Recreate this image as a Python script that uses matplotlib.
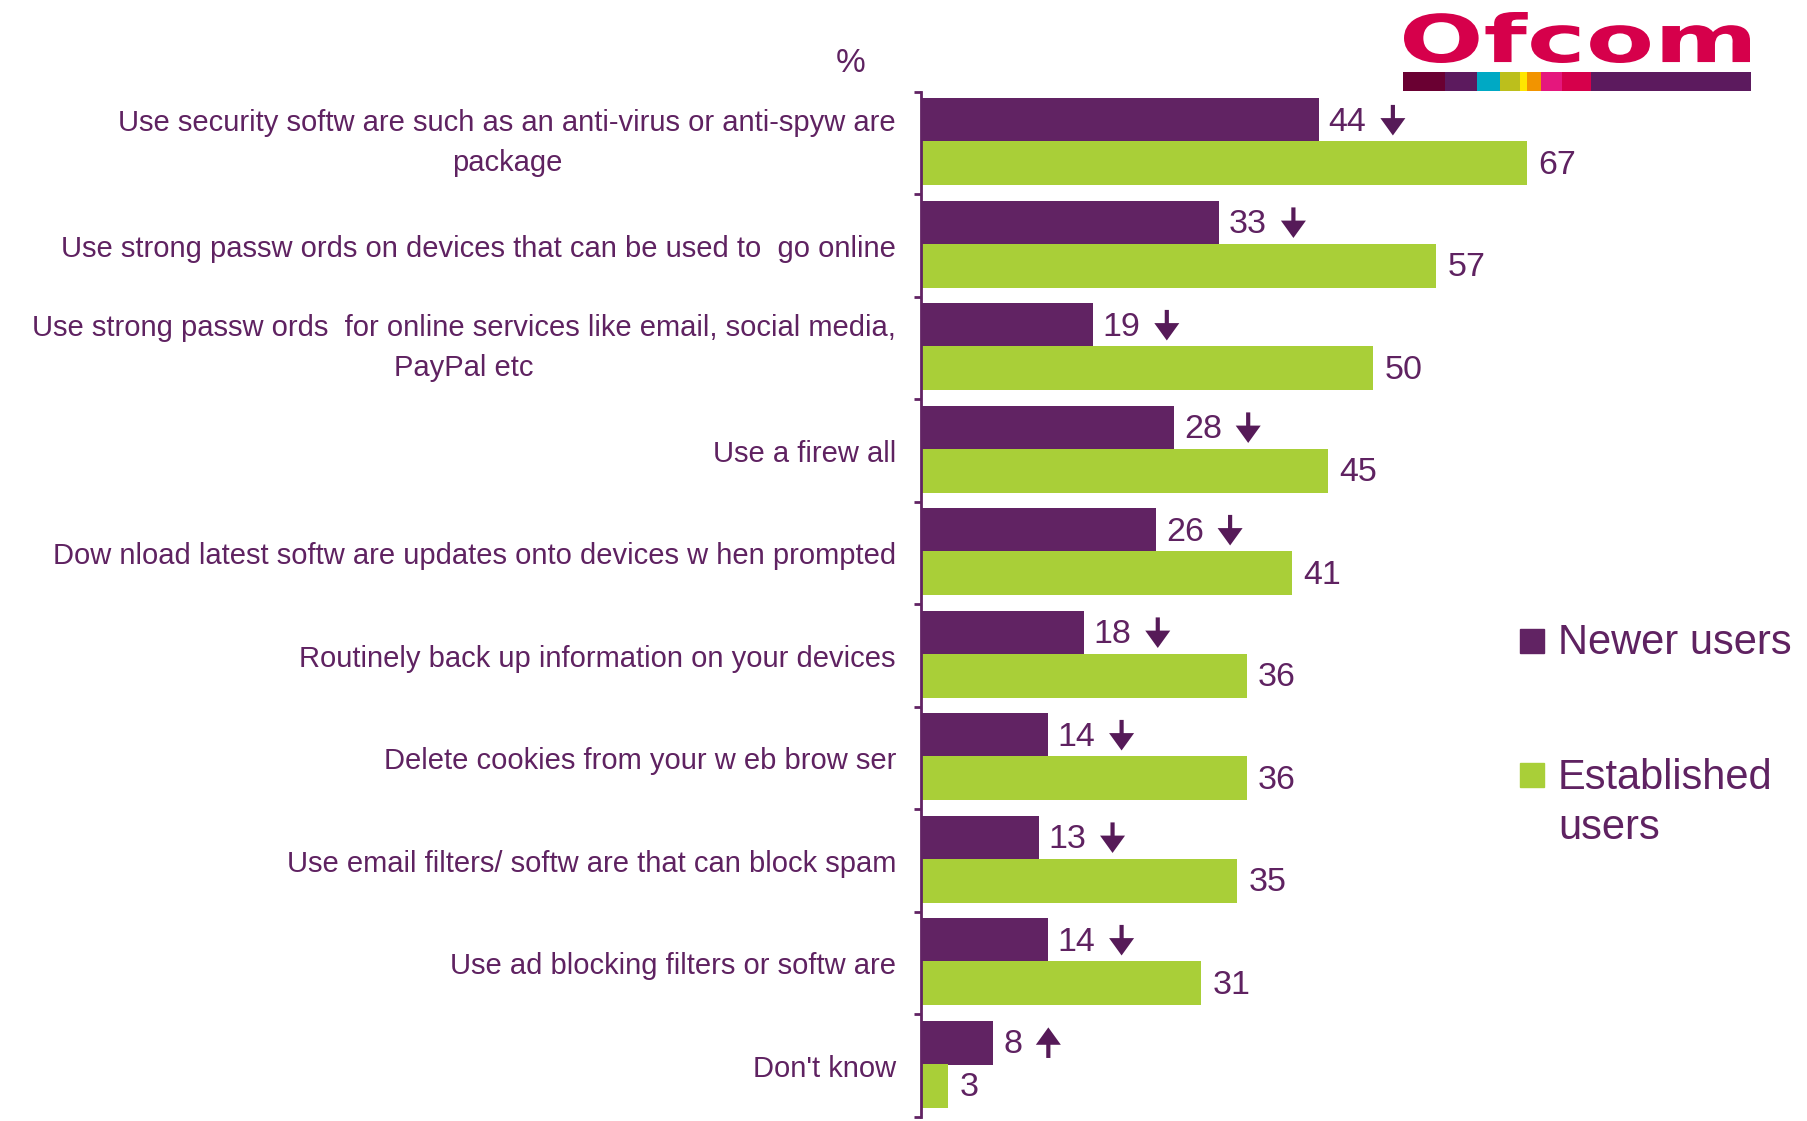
import matplotlib
matplotlib.use("Agg")
import matplotlib.pyplot as plt
from matplotlib.patches import Rectangle, PathPatch
from matplotlib.textpath import TextPath
from matplotlib.font_manager import FontProperties
from matplotlib.transforms import offset_copy

categories = [
    "Use security softw are such as an anti-virus or anti-spyw are\npackage",
    "Use strong passw ords on devices that can be used to  go online",
    "Use strong passw ords  for online services like email, social media,\nPayPal etc",
    "Use a firew all",
    "Dow nload latest softw are updates onto devices w hen prompted",
    "Routinely back up information on your devices",
    "Delete cookies from your w eb brow ser",
    "Use email filters/ softw are that can block spam",
    "Use ad blocking filters or softw are",
    "Don't know",
]
newer_users = [44, 33, 19, 28, 26, 18, 14, 13, 14, 8]
established_users = [67, 57, 50, 45, 41, 36, 36, 35, 31, 3]
change = ["down", "down", "down", "down", "down", "down", "down", "down", "down", "up"]

PURPLE = "#612363"
ARROW = "#561a58"
GREEN = "#a9cf38"
TEXT = "#5f2261"
RED = "#d6004b"

plt.rcParams["font.family"] = ["Liberation Sans", "DejaVu Sans"]

W, H = 1808, 1121
fig = plt.figure(figsize=(W / 100, H / 100), dpi=100)
ax = fig.add_axes([921 / W, 1 - 1117 / H, 633 / W, (1117 - 92) / H])

y = list(range(len(categories)))
bh = 0.43
ax.barh([i - 0.225 for i in y], newer_users, height=bh, color=PURPLE)
ax.barh([i + 0.195 for i in y], established_users, height=bh, color=GREEN)

ax.set_xlim(0, 70)
ax.set_ylim(len(categories) - 0.5, -0.5)

for i, (n, e, c) in enumerate(zip(newer_users, established_users, change)):
    ax.annotate(str(n), (n, i - 0.225), xytext=(7, -1.5), textcoords="offset points",
                ha="left", va="center", fontsize=24.5, color=TEXT)
    ax.annotate(str(e), (e, i + 0.195), xytext=(8, -1.5), textcoords="offset points",
                ha="left", va="center", fontsize=24.5, color=TEXT)
    # significance arrow after the newer users label
    dx = (9 + 19 * len(str(n)) + 27) / 1.389
    sign = -1 if c == "down" else 1
    tail = offset_copy(ax.transData, fig=fig, x=dx, y=-sign * 11, units="points")
    head = offset_copy(ax.transData, fig=fig, x=dx, y=sign * 11, units="points")
    ax.annotate("", xy=(n, i - 0.225), xycoords=head, xytext=(n, i - 0.225), textcoords=tail,
                arrowprops=dict(arrowstyle="simple,head_length=0.5,head_width=0.72,tail_width=0.12",
                                mutation_scale=25, lw=0, color=ARROW,
                                shrinkA=0, shrinkB=0))

for s in ["top", "right", "bottom"]:
    ax.spines[s].set_visible(False)
ax.spines["left"].set_color(PURPLE)
ax.spines["left"].set_linewidth(2)
ax.set_xticks([])
ax.set_yticks(y)
ax.set_yticklabels(categories, fontsize=21, color=TEXT, multialignment="center",
                   linespacing=1.55)
for lbl in ax.get_yticklabels():
    if "\n" in lbl.get_text():
        lbl.set_va("center")
ax.tick_params(axis="y", which="major", length=0, pad=18)
ax.set_yticks([i - 0.5 for i in range(len(categories) + 1)], minor=True)
ax.tick_params(axis="y", which="minor", length=5, width=2, color=PURPLE)

fig.text(851 / W, 1 - 64 / H, "%", fontsize=24, color=TEXT, ha="center", va="center")

# legend
fig.patches.append(Rectangle((1520 / W, 1 - 653 / H), 24 / W, 24 / H,
                             transform=fig.transFigure, color=PURPLE))
fig.text(1558 / W, 1 - 643 / H, "Newer users", fontsize=30, color=TEXT,
         va="center", ha="left")
fig.patches.append(Rectangle((1520 / W, 1 - 787 / H), 24 / W, 24 / H,
                             transform=fig.transFigure, color=GREEN))
fig.text(1558 / W, 1 - 758 / H, "Established\nusers", fontsize=30, color=TEXT,
         va="top", ha="left", linespacing=1.33)

# logo
logo = fig.add_axes([1404 / W, 1 - 63 / H, 346 / W, 51 / H])
tp = TextPath((0, 0), "Ofcom", prop=FontProperties(family="DejaVu Sans", weight="bold"))
ext = tp.get_extents()
logo.add_patch(PathPatch(tp, fc=RED, ec="none"))
logo.set_xlim(ext.x0, ext.x1)
logo.set_ylim(ext.y0, ext.y1)
logo.axis("off")

strip = fig.add_axes([1403 / W, 1 - 91 / H, 348 / W, 19 / H])
bounds = [1403, 1445, 1477, 1500, 1520, 1527, 1541, 1562, 1591, 1751]
strip_colors = ["#6a0032", "#5c1a5e", "#00a9c4", "#bcbf1c", "#ffe600",
                "#f29400", "#e5177d", "#d6004b", "#5c1a5e"]
for x0, x1, col in zip(bounds[:-1], bounds[1:], strip_colors):
    strip.barh(0, x1 - x0, left=x0, height=1, color=col)
strip.set_xlim(1403, 1751)
strip.set_ylim(-0.5, 0.5)
strip.axis("off")

fig.savefig("out.png", dpi=100, facecolor="white")
